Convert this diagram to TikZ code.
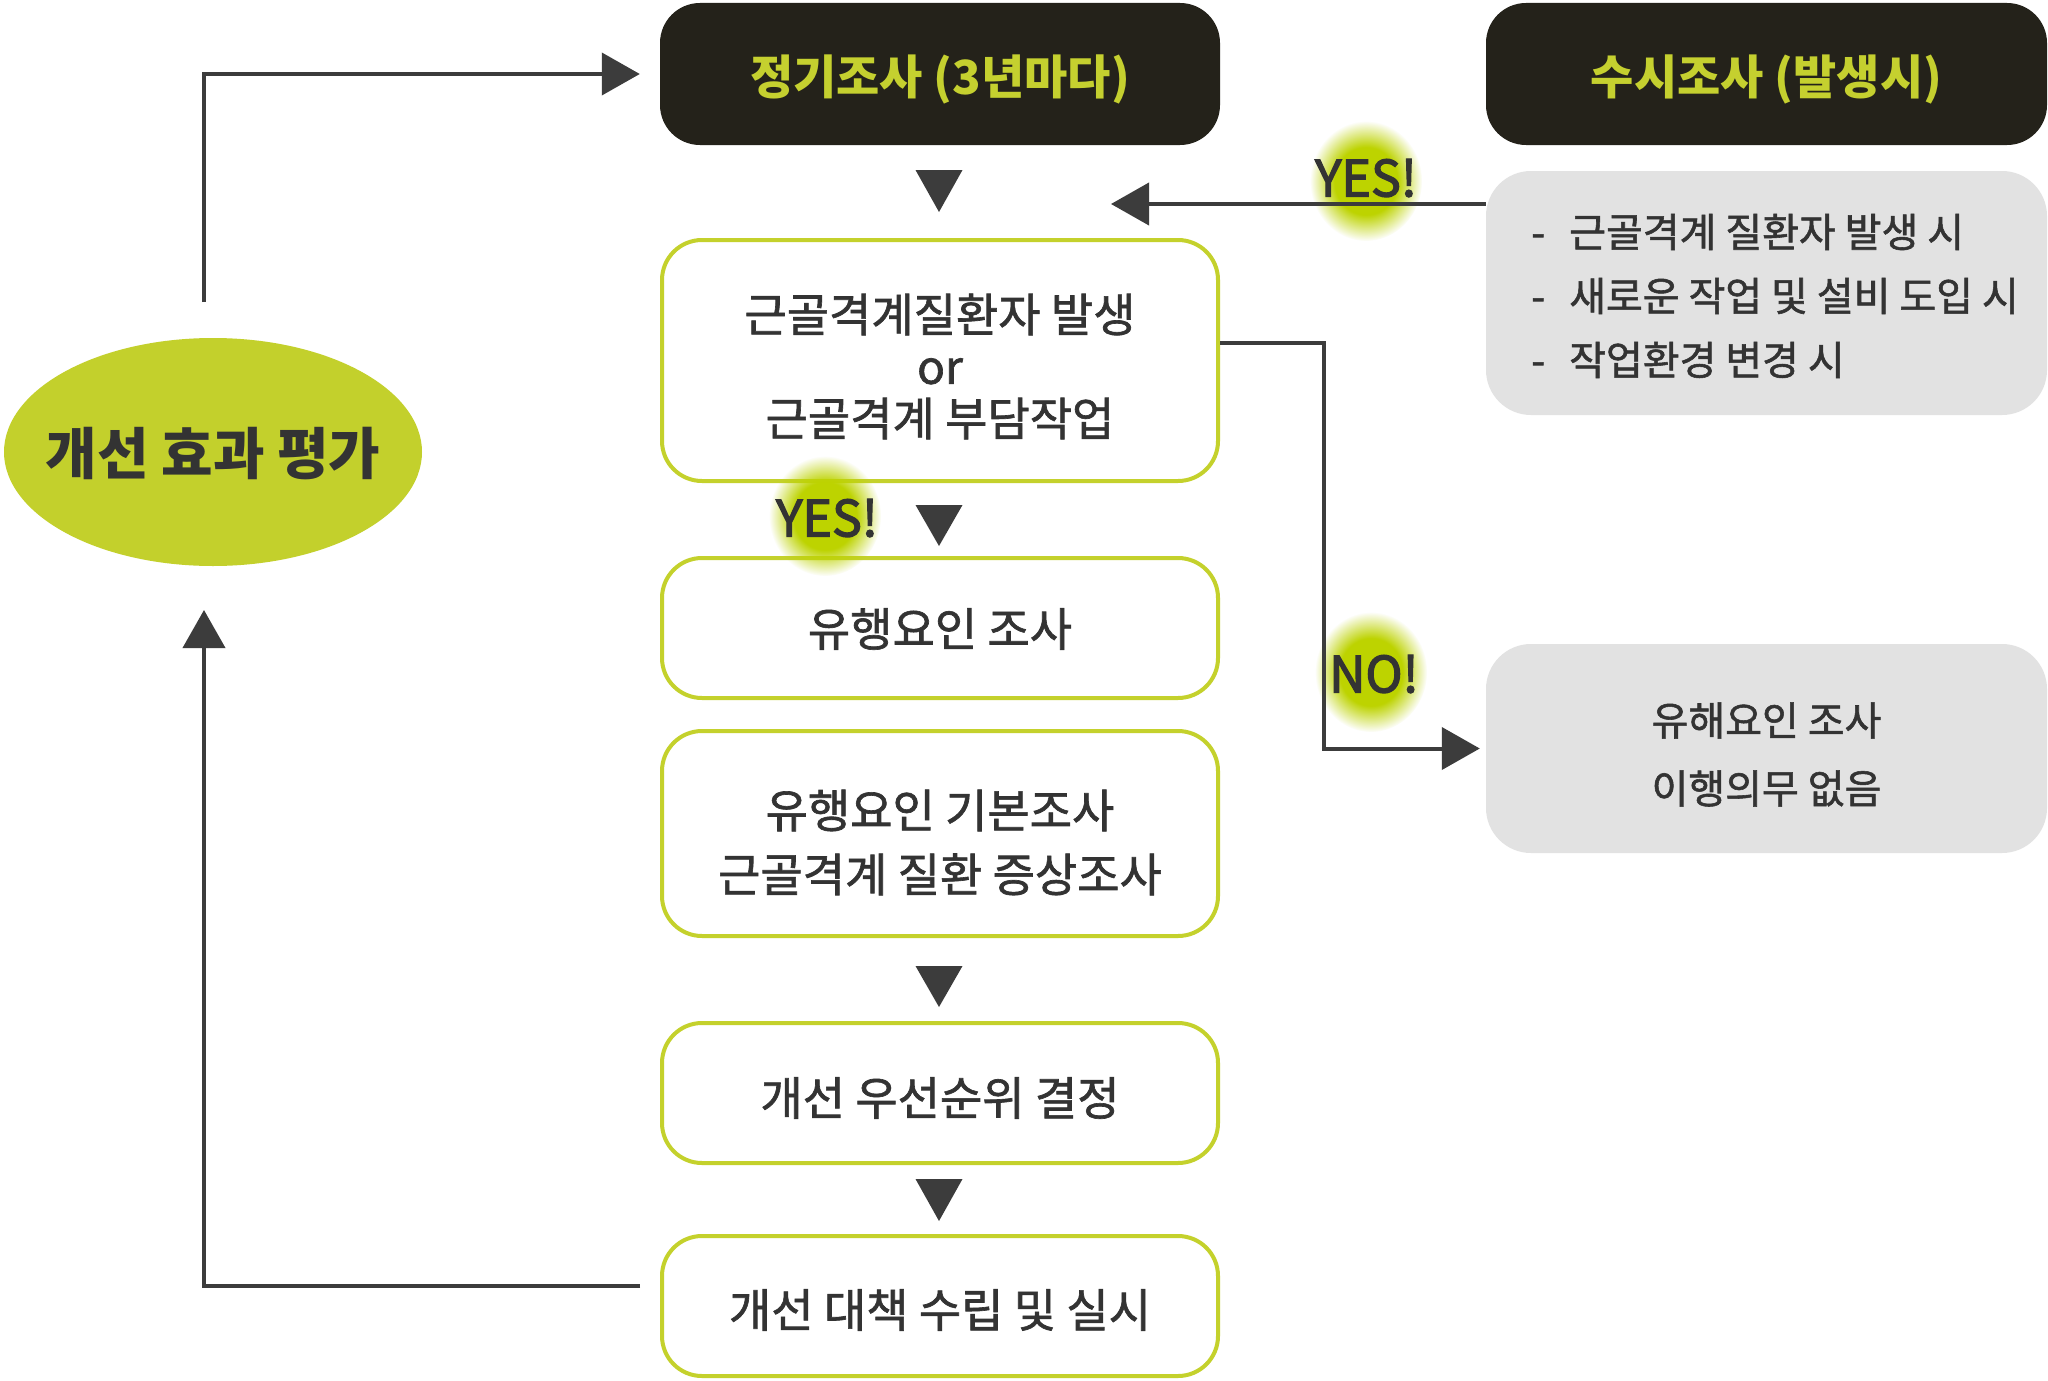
\documentclass[tikz,border=0pt]{standalone}
\usepackage{fontspec}
\setmainfont{Noto Sans CJK KR}
\newfontfamily\medfont{Noto Sans CJK KR}[FakeBold=1.4]
\newfontfamily\semifont{Noto Sans CJK KR}[FakeBold=2.6]
\usetikzlibrary{arrows.meta,fadings,shapes.geometric}
\definecolor{darkbox}{HTML}{24221A}
\definecolor{titlegreen}{HTML}{C5D02F}
\definecolor{boxgreen}{HTML}{C4D12C}
\definecolor{ellgreen}{HTML}{C3D02C}
\definecolor{glowgreen}{HTML}{BDD300}
\definecolor{graybg}{HTML}{E2E2E2}
\definecolor{txt}{HTML}{333333}
\definecolor{linec}{HTML}{3C3C3C}
\pgfdeclareradialshading{glowshade}{\pgfpointorigin}{color(0bp)=(white); color(14bp)=(white); color(25bp)=(black); color(50bp)=(black)}
\pgfdeclarefading{glowfade}{\pgfuseshading{glowshade}}
\begin{document}
\begin{tikzpicture}[x=1pt,y=-1pt,
  titlebox/.style={rounded corners=40pt, fill=darkbox, minimum width=560pt, minimum height=142pt, inner sep=0pt},
  titletext/.style={text=titlegreen, inner sep=0pt, font=\bfseries\fontsize{47pt}{56pt}\selectfont},
  stepbox/.style={draw=boxgreen, line width=4pt, fill=white, rounded corners=40pt, minimum width=556pt, inner sep=0pt},
  steptext/.style={text=txt, align=center, inner sep=0pt, font=\medfont\fontsize{46pt}{52pt}\selectfont},
  graybox/.style={fill=graybg, rounded corners=45pt, minimum width=561pt, inner sep=0pt},
  graytext/.style={text=txt, inner sep=0pt, font=\medfont\fontsize{40pt}{64pt}\selectfont},
  conn/.style={draw=linec, line width=4pt},
  tip/.style={-{Triangle[length=38pt,width=42pt]}},
  marker/.style={fill=linec},
  glow/.style={fill=glowgreen, path fading=glowfade},
  lbl/.style={text=txt, inner sep=0pt, font=\semifont\fontsize{50pt}{60pt}\selectfont}
]
\useasboundingbox (0,0) rectangle (2048,1381);
\fill[white] (0,0) rectangle (2048,1381);

% title boxes
\node[titlebox] (top) at (940,74) {};
\node[titletext] (topt) at ([yshift=-5pt]top.center) {정기조사 (3년마다)};
\node[titlebox, minimum width=561pt] (rtop) at (1766.5,74) {};
\node[titletext] (rtopt) at ([yshift=-5pt]rtop.center) {수시조사 (발생시)};

% gray boxes
\node[graybox, minimum height=244pt] (g1) at (1766.5,293) {};
\node[graytext, anchor=west, align=left] (g1t) at (1531,296)
  {\makebox[38pt][l]{-}근골격계 질환자 발생 시\\\makebox[38pt][l]{-}새로운 작업 및 설비 도입 시\\\makebox[38pt][l]{-}작업환경 변경 시};
\node[graybox, minimum height=209pt] (g2) at (1766.5,748.5) {};
\node[graytext, align=center, font=\medfont\fontsize{40pt}{68pt}\selectfont] (g2t) at ([yshift=-6pt]g2.center) {유해요인 조사\\이행의무 없음};

% step boxes
\node[stepbox, minimum height=241pt] (b1) at (940,360.5) {};
\node[steptext] (b1t) at ([yshift=-6pt]b1.center) {근골격계질환자 발생\\or\\근골격계 부담작업};
\node[stepbox, minimum height=140pt] (b2) at (940,628) {};
\node[steptext] (b2t) at ([yshift=-1pt]b2.center) {유행요인 조사};
\node[stepbox, minimum height=205pt] (b3) at (940,833.5) {};
\node[steptext, font=\medfont\fontsize{46pt}{64pt}\selectfont] (b3t) at ([yshift=-9pt]b3.center) {유행요인 기본조사\\근골격계 질환 증상조사};
\node[stepbox, minimum height=140pt] (b4) at (940,1093) {};
\node[steptext] (b4t) at ([yshift=-5pt]b4.center) {개선 우선순위 결정};
\node[stepbox, minimum height=140pt] (b5) at (940,1306) {};
\node[steptext] (b5t) at ([yshift=-4pt]b5.center) {개선 대책 수립 및 실시};

% evaluation ellipse
\node[ellipse, fill=ellgreen, minimum width=418pt, minimum height=228pt, inner sep=0pt] (ell) at (213,452) {};
\node[text=txt, inner sep=0pt, font=\bfseries\fontsize{56pt}{60pt}\selectfont] (ellt) at ([yshift=-2pt]ell.center) {개선 효과 평가};

% glows
\fill[glow] (1366,181) ellipse (56pt and 60pt);
\fill[glow] (825,516) ellipse (56pt and 60pt);
\fill[glow] (1371,672) ellipse (56pt and 60pt);

% down markers
\fill[marker] (915.5,170) -- (962.5,170) -- (939,212) -- cycle;
\fill[marker] (915.5,505) -- (962.5,505) -- (939,546) -- cycle;
\fill[marker] (915.5,966) -- (962.5,966) -- (939,1007) -- cycle;
\fill[marker] (915.5,1179) -- (962.5,1179) -- (939,1221) -- cycle;

% connectors
\coordinate (loopstart) at (204,302);
\coordinate (uptip) at (204,610);
\coordinate (yestip) at (1111,204);
\coordinate (noturn) at (1324,748.5);
\draw[conn, tip] (loopstart) |- ([xshift=-20pt]top.west);
\draw[conn, tip] ([xshift=-20pt,yshift=20pt]b5.west) -| (uptip);
\draw[conn, tip] ([yshift=89pt]g1.west) -- (yestip);
\draw[conn, tip] ([yshift=18pt]b1.east) -| (noturn) -- ([xshift=-6pt]g2.west);

% labels
\node[lbl] (yes1) at (1366,178) {YES!};
\node[lbl] (yes2) at (827,518) {YES!};
\node[lbl] (no1) at (1374,674) {NO!};
\end{tikzpicture}
\end{document}
